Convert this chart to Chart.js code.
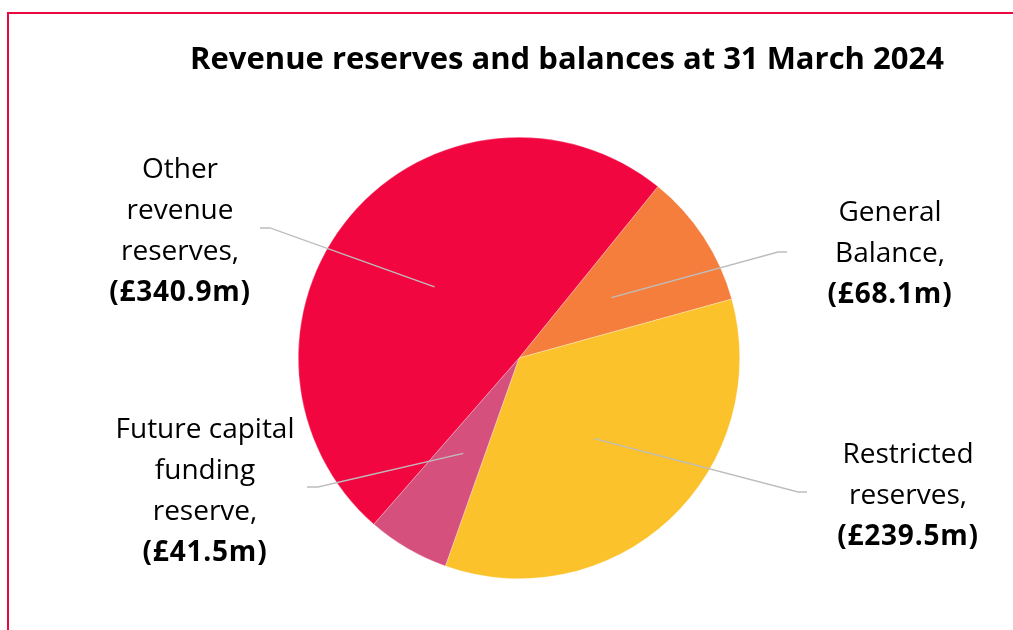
<!DOCTYPE html>
<html>
<head>
<meta charset="utf-8">
<script src="https://cdn.jsdelivr.net/npm/chart.js@4.4.1/dist/chart.umd.min.js"></script>
<style>
  html, body { margin: 0; padding: 0; background: #fff; }
  .wrap { position: relative; width: 1013px; height: 630px; overflow: hidden; }
  .frame { position: absolute; left: 7px; top: 12px; width: 1100px; height: 700px;
           border-top: 2px solid #E8093F; border-left: 2px solid #E8093F; }
  canvas { position: absolute; left: 0; top: 0; }
</style>
</head>
<body>
<div class="wrap">
  <div class="frame"></div>
  <canvas id="myChart" width="1013" height="630"></canvas>
</div>
<script>
// data
const categories = ['General Balance', 'Restricted reserves', 'Future capital funding reserve', 'Other revenue reserves'];
const values = [68.1, 239.5, 41.5, 340.9];
const colors = ['#F57E3D', '#FBC22B', '#D6507E', '#F2063F'];
const titleText = 'Revenue reserves and balances at 31 March 2024';

// how each label is wrapped (last line is the value)
const wrapped = [['General', 'Balance,'], ['Restricted', 'reserves,'], ['Future capital', 'funding', 'reserve,'], ['Other', 'revenue', 'reserves,']];

// label placement, px from pie centre
const labelLayout = [
  { tx: 371, ty: -145, ex: 259, ey: -106, end: 268 },
  { tx: 389, ty: 97, ex: 279, ey: 134, end: 288 },
  { tx: -314, ty: 72, ex: -201, ey: 129, end: -212 },
  { tx: -339, ty: -188, ex: -249, ey: -130, end: -259 }
];

const FONT = '"Open Sans", "Liberation Sans", sans-serif';

//labels + title
const labelPlugin = {
  id: 'labels',
  afterDraw(chart) {
    const ctx = chart.ctx;
    const meta = chart.getDatasetMeta(0);
    ctx.save();

    ctx.fillStyle = '#000';
    ctx.textAlign = 'center';
    ctx.textBaseline = 'middle';
    ctx.font = 'bold 31px ' + FONT;
    ctx.fillText(titleText, 567, 60);

    meta.data.forEach(function(arc, i) {
      const cx = arc.x, cy = arc.y;
      const mid = (arc.startAngle + arc.endAngle) / 2;
      const r = arc.outerRadius * 0.5;
      const lay = labelLayout[i];

      ctx.strokeStyle = '#BDBDBD';
      ctx.lineWidth = 1.3;
      ctx.beginPath();
      ctx.moveTo(cx + Math.cos(mid) * r, cy + Math.sin(mid) * r);
      ctx.lineTo(cx + lay.ex, cy + lay.ey);
      ctx.lineTo(cx + lay.end, cy + lay.ey);
      ctx.stroke();

      const lines = wrapped[i].slice();
      lines.push('(£' + values[i].toFixed(1) + 'm)');
      lines.forEach(function(txt, j) {
        const last = j == lines.length - 1;
        ctx.font = (last ? 'bold ' : '') + '28px ' + FONT;
        ctx.letterSpacing = last ? '0.8px' : '0px';
        ctx.fillText(txt, cx + lay.tx, cy + lay.ty + j * 41);
      });
      ctx.letterSpacing = '0px';
    });
    ctx.restore();
  }
};

var ctx = document.getElementById('myChart').getContext('2d');

var chart = new Chart(ctx, {
  type: 'pie',
  data: {
    labels: categories,
    datasets: [{
      data: values,
      backgroundColor: colors,
      borderColor: 'rgba(255,255,255,0.6)',
      borderWidth: 0.5
    }]
  },
  options: {
    responsive: false,
    animation: false,
    rotation: 39,
    layout: { padding: { left: 298, right: 273, top: 137, bottom: 51 } },
    plugins: {
      legend: { display: false },
      tooltip: { enabled: false },
      title: { display: false }
    }
  },
  plugins: [labelPlugin]
});
</script>
</body>
</html>
